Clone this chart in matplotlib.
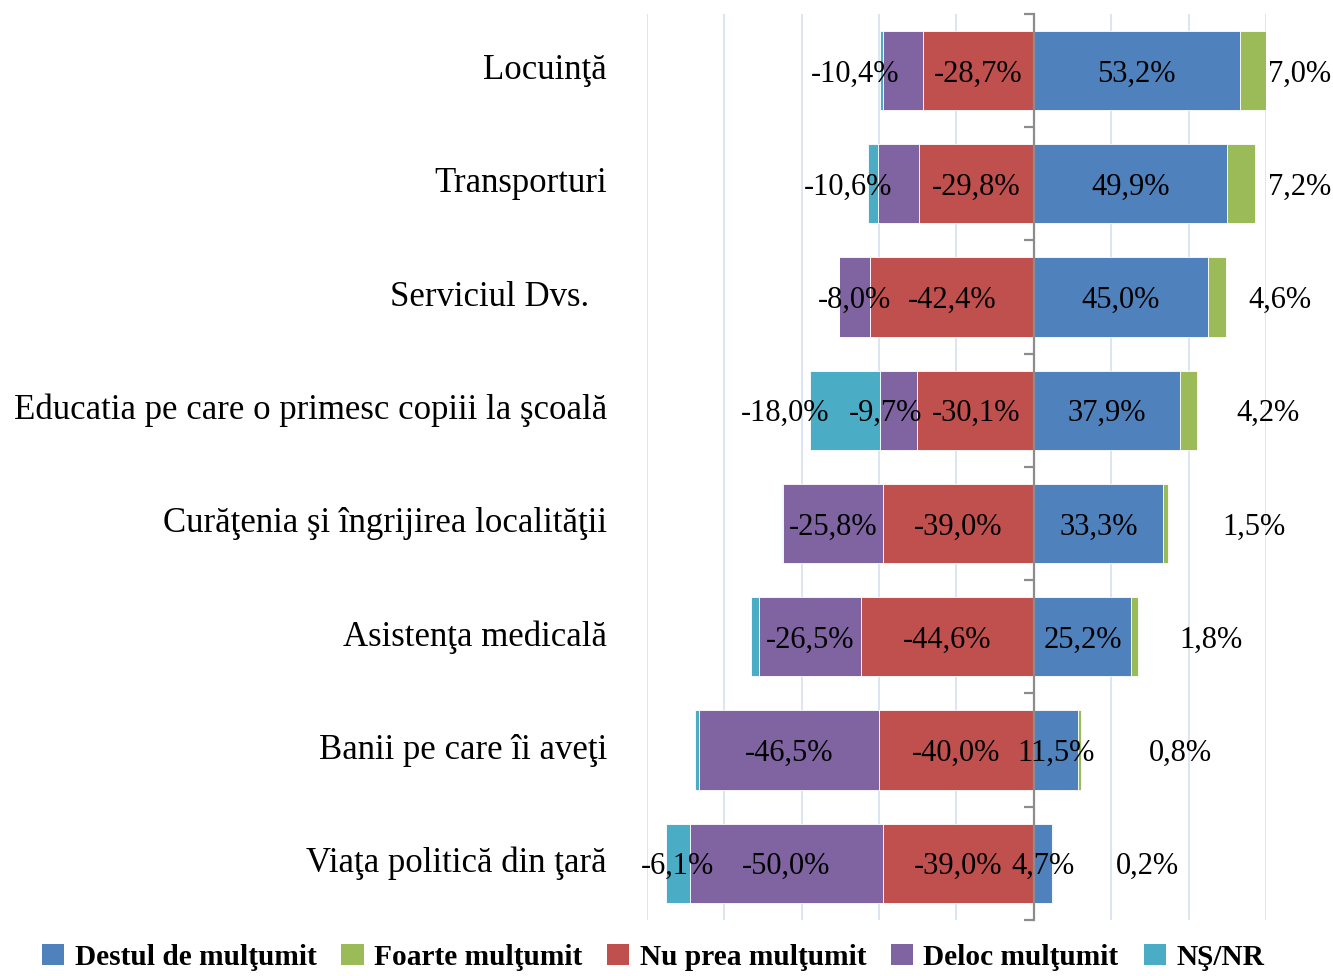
import matplotlib
matplotlib.use("Agg")
import matplotlib.pyplot as plt
import matplotlib.patches as patches
import matplotlib.transforms as mtransforms
import numpy as np

plt.rcParams['font.family'] = ['Liberation Serif', 'DejaVu Serif']

# Categories, top to bottom
categories = [
    "Locuinţă",
    "Transporturi",
    "Serviciul Dvs.  ",
    "Educatia pe care o primesc copiii la şcoală",
    "Curăţenia şi îngrijirea localităţii",
    "Asistenţa medicală",
    "Banii pe care îi aveţi",
    "Viaţa politică din ţară",
]

# Values in percent
destul = [53.2, 49.9, 45.0, 37.9, 33.3, 25.2, 11.5, 4.7]
foarte = [7.0, 7.2, 4.6, 4.2, 1.5, 1.8, 0.8, 0.2]
nu_prea = [28.7, 29.8, 42.4, 30.1, 39.0, 44.6, 40.0, 39.0]
deloc = [10.4, 10.6, 8.0, 9.7, 25.8, 26.5, 46.5, 50.0]
ns_nr = [0.7, 2.5, 0.0, 18.0, 0.4, 1.9, 1.2, 6.1]

# Label placement tweaks (percent units), as in the source chart
foarte_label_x = [68.7, 68.7, 63.5, 60.5, 56.8, 45.8, 38.0, 29.4]
deloc_label_shift = [-12.4, -13.0, 0, -3.3, 0, 0, 0, 0]
nsnr_label_shift = [0, 0, 0, -15.4, 0, 0, 0, 0]

colors = {
    "Destul de mulţumit": "#4F81BD",
    "Foarte mulţumit": "#9BBB59",
    "Nu prea mulţumit": "#C0504D",
    "Deloc mulţumit": "#8064A2",
    "NŞ/NR": "#4BACC6",
}

def fmt(v):
    return f"{v:.1f}%".replace(".", ",")

destul = np.array(destul)
foarte = np.array(foarte)
nu_prea = np.array(nu_prea)
deloc = np.array(deloc)
ns_nr = np.array(ns_nr)
y = np.arange(len(categories))

fig = plt.figure(figsize=(13.33, 9.76), dpi=100)
ax = fig.add_axes([0.4854, 0.0574, 0.4643, 0.9283])

h = 0.7
ekw = dict(edgecolor="white", linewidth=0.6, zorder=3)
ax.barh(y, destul, left=0, height=h, color=colors["Destul de mulţumit"], **ekw)
ax.barh(y, foarte, left=destul, height=h, color=colors["Foarte mulţumit"], **ekw)
ax.barh(y, -nu_prea, left=0, height=h, color=colors["Nu prea mulţumit"], **ekw)
ax.barh(y, -deloc, left=-nu_prea, height=h, color=colors["Deloc mulţumit"], **ekw)
ax.barh(y, -ns_nr, left=-nu_prea - deloc, height=h, color=colors["NŞ/NR"], **ekw)

fs = 22
for i in range(len(categories)):
    ax.text(destul[i] / 2, i + 0.03, fmt(destul[i]), ha="center", va="center", fontsize=fs, zorder=5)
    ax.text(foarte_label_x[i], i + 0.03, fmt(foarte[i]), ha="center", va="center", fontsize=fs, zorder=5)
    ax.text(-nu_prea[i] / 2, i + 0.03, fmt(-nu_prea[i]), ha="center", va="center", fontsize=fs, zorder=5)
    ax.text(-nu_prea[i] - deloc[i] / 2 + deloc_label_shift[i], i + 0.03, fmt(-deloc[i]),
            ha="center", va="center", fontsize=fs, zorder=5)
    if ns_nr[i] >= 5:
        ax.text(-nu_prea[i] - deloc[i] - ns_nr[i] / 2 + nsnr_label_shift[i], i + 0.03, fmt(-ns_nr[i]),
                ha="center", va="center", fontsize=fs, zorder=5)

# category labels at the left of the plot area
trans = mtransforms.blended_transform_factory(ax.transAxes, ax.transData)
for i, c in enumerate(categories):
    ax.text(-0.065, i, c, transform=trans, ha="right", va="center", fontsize=25)

ax.set_xlim(-100, 60)
ax.set_ylim(len(categories) - 0.5, -0.5)

ax.set_xticks(np.arange(-100, 61, 20))
ax.tick_params(axis="x", length=0, labelbottom=False)
ax.grid(axis="x", color="#D9E3F2", linewidth=1.3, zorder=0)
ax.set_axisbelow(True)

# zero line with ticks at category boundaries
ax.spines["left"].set_position(("data", 0))
ax.spines["left"].set_color("#8C8C8C")
ax.spines["left"].set_linewidth(1.6)
ax.spines["left"].set_zorder(4)
ax.set_yticks(np.arange(len(categories) + 1) - 0.5)
ax.tick_params(axis="y", length=7, width=1.6, color="#8C8C8C", direction="out", labelleft=False)
for s in ["top", "right", "bottom"]:
    ax.spines[s].set_visible(False)

handles = [patches.Patch(facecolor=c, edgecolor="none", label=l) for l, c in colors.items()]
fig.legend(handles=handles, loc="center", bbox_to_anchor=(0.49, 0.019), ncol=5, frameon=False,
           prop={"size": 21.2, "weight": "bold"}, handlelength=0.75, handleheight=0.75,
           handletextpad=0.35, columnspacing=0.85, borderaxespad=0)

fig.savefig("out.png", dpi=100)
